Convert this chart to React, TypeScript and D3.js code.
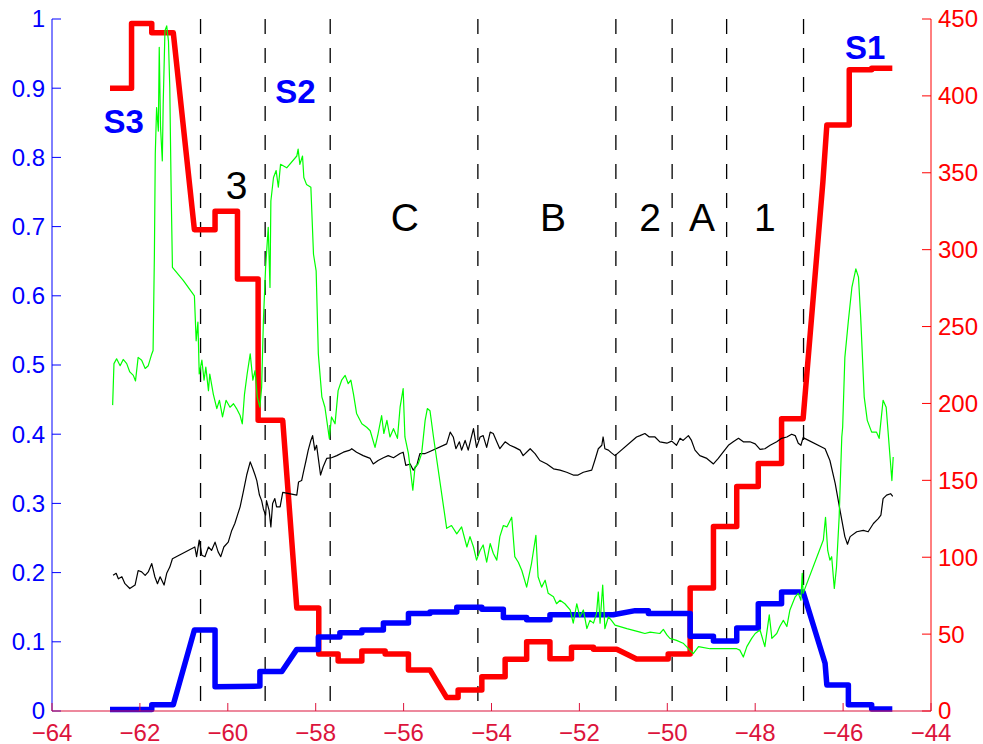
import * as d3 from 'd3'

const W = 983
const H = 744

// x extent of the plot and both y domains
const xDomain: [number, number] = [-64, -44]
const leftDomain: [number, number] = [0, 1]
const rightDomain: [number, number] = [0, 450]

// red staircase (right axis)
const redLine: [number, number][] = [
  [-62.68, 405], [-62.19, 405], [-62.19, 447], [-61.73, 447], [-61.73, 441], [-61.24, 441],
  [-60.76, 313], [-60.29, 313], [-60.29, 325], [-59.78, 325], [-59.78, 281], [-59.31, 281],
  [-59.31, 189], [-58.75, 189], [-58.43, 67], [-57.93, 67], [-57.93, 37], [-57.49, 37],
  [-57.49, 32.5], [-56.95, 32.5], [-56.95, 39], [-56.42, 39], [-56.42, 37], [-55.89, 37],
  [-55.89, 26.7], [-55.4, 26.7], [-55.02, 8.7], [-54.76, 8.7], [-54.76, 13.7], [-54.22, 13.7],
  [-54.22, 22.3], [-53.69, 22.3], [-53.69, 33.6], [-53.2, 33.6], [-53.2, 45], [-52.67, 45],
  [-52.67, 34], [-52.18, 34], [-52.18, 41.4], [-51.68, 41.4], [-51.68, 40.1], [-51.15, 40.1],
  [-50.7, 33.8], [-49.98, 33.8], [-49.98, 37], [-49.48, 37], [-49.48, 80], [-48.95, 80],
  [-48.95, 120], [-48.42, 120], [-48.42, 146], [-47.93, 146], [-47.93, 161], [-47.4, 161],
  [-47.4, 190], [-46.91, 190], [-46.46, 344], [-46.37, 381], [-45.86, 381], [-45.86, 417],
  [-45.35, 417], [-45.35, 418], [-44.88, 418],
]

// blue staircase (left axis)
const blueLine: [number, number][] = [
  [-62.68, 0.002], [-61.73, 0.002], [-61.73, 0.009], [-61.24, 0.009], [-60.76, 0.117],
  [-60.29, 0.117], [-60.29, 0.035], [-59.27, 0.036], [-59.27, 0.057], [-58.77, 0.057],
  [-58.43, 0.089], [-57.94, 0.089], [-57.94, 0.107], [-57.45, 0.107], [-57.45, 0.113],
  [-56.95, 0.113], [-56.95, 0.117], [-56.46, 0.117], [-56.46, 0.127], [-55.89, 0.127],
  [-55.89, 0.141], [-55.4, 0.141], [-55.4, 0.143], [-54.79, 0.143], [-54.79, 0.15],
  [-54.22, 0.15], [-54.22, 0.147], [-53.73, 0.147], [-53.73, 0.135], [-53.2, 0.135],
  [-53.2, 0.132], [-52.67, 0.132], [-52.67, 0.139], [-51.23, 0.139], [-50.73, 0.145],
  [-50.43, 0.145], [-50.43, 0.141], [-49.48, 0.141], [-49.48, 0.108], [-48.95, 0.108],
  [-48.95, 0.101], [-48.42, 0.101], [-48.42, 0.12], [-47.93, 0.12], [-47.93, 0.155],
  [-47.4, 0.155], [-47.4, 0.172], [-46.91, 0.172], [-46.41, 0.069], [-46.37, 0.0375],
  [-45.88, 0.0375], [-45.88, 0.009], [-45.35, 0.009], [-45.35, 0.003], [-44.88, 0.003],
]

// green trace (left axis)
const greenLine: [number, number][] = [
  [-62.62, 0.442], [-62.59, 0.502], [-62.53, 0.509], [-62.45, 0.499], [-62.38, 0.508],
  [-62.3, 0.502], [-62.23, 0.49], [-62.15, 0.485], [-62.1, 0.477], [-62.04, 0.511],
  [-61.96, 0.507], [-61.88, 0.495], [-61.81, 0.499], [-61.73, 0.516], [-61.7, 0.521],
  [-61.67, 0.66], [-61.65, 0.805], [-61.62, 0.872], [-61.58, 0.838], [-61.56, 0.959],
  [-61.53, 0.843], [-61.49, 0.795], [-61.47, 0.877], [-61.43, 0.983], [-61.39, 0.99],
  [-61.35, 0.968], [-61.32, 0.901], [-61.29, 0.757], [-61.26, 0.641], [-61.01, 0.622],
  [-60.76, 0.6], [-60.72, 0.535], [-60.68, 0.562], [-60.65, 0.487], [-60.59, 0.507],
  [-60.54, 0.478], [-60.5, 0.497], [-60.44, 0.463], [-60.41, 0.487], [-60.33, 0.458],
  [-60.25, 0.437], [-60.19, 0.449], [-60.12, 0.425], [-60.04, 0.449], [-59.95, 0.439],
  [-59.87, 0.444], [-59.8, 0.437], [-59.72, 0.427], [-59.67, 0.415], [-59.62, 0.458],
  [-59.56, 0.487], [-59.49, 0.516], [-59.43, 0.478], [-59.38, 0.492], [-59.33, 0.454],
  [-59.27, 0.439], [-59.23, 0.468], [-59.19, 0.564], [-59.14, 0.641], [-59.08, 0.699],
  [-59.04, 0.612], [-59.02, 0.737], [-58.96, 0.771], [-58.9, 0.781], [-58.85, 0.757],
  [-58.8, 0.79], [-58.66, 0.785], [-58.43, 0.802], [-58.4, 0.812], [-58.36, 0.79],
  [-58.3, 0.802], [-58.27, 0.771], [-58.21, 0.761], [-58.11, 0.757], [-58.05, 0.66],
  [-57.99, 0.636], [-57.94, 0.516], [-57.86, 0.454], [-57.79, 0.439], [-57.69, 0.394],
  [-57.64, 0.425], [-57.56, 0.415], [-57.49, 0.463], [-57.41, 0.478], [-57.33, 0.485],
  [-57.26, 0.473], [-57.2, 0.478], [-57.14, 0.458], [-57.07, 0.43], [-56.95, 0.415],
  [-56.84, 0.41], [-56.76, 0.405], [-56.65, 0.381], [-56.58, 0.401], [-56.5, 0.427],
  [-56.45, 0.401], [-56.38, 0.42], [-56.31, 0.396], [-56.23, 0.408], [-56.14, 0.394],
  [-56.08, 0.439], [-56.01, 0.466], [-55.97, 0.396], [-55.89, 0.372], [-55.79, 0.319],
  [-55.74, 0.353], [-55.67, 0.357], [-55.59, 0.372], [-55.51, 0.42], [-55.46, 0.437],
  [-55.4, 0.434], [-55.32, 0.396], [-55.02, 0.264], [-54.91, 0.268], [-54.79, 0.256],
  [-54.68, 0.266], [-54.56, 0.237], [-54.49, 0.252], [-54.41, 0.237], [-54.34, 0.218],
  [-54.26, 0.232], [-54.19, 0.24], [-54.11, 0.215], [-54.03, 0.242], [-53.96, 0.228],
  [-53.88, 0.218], [-53.81, 0.252], [-53.73, 0.268], [-53.65, 0.266], [-53.54, 0.28],
  [-53.47, 0.223], [-53.39, 0.215], [-53.31, 0.203], [-53.2, 0.179], [-53.09, 0.213],
  [-52.99, 0.254], [-52.94, 0.194], [-52.86, 0.179], [-52.78, 0.189], [-52.71, 0.17],
  [-52.59, 0.165], [-52.52, 0.155], [-52.44, 0.16], [-52.33, 0.155], [-52.21, 0.146],
  [-52.14, 0.127], [-52.06, 0.155], [-51.99, 0.136], [-51.91, 0.146], [-51.83, 0.119],
  [-51.76, 0.131], [-51.68, 0.127], [-51.61, 0.141], [-51.57, 0.172], [-51.53, 0.127],
  [-51.47, 0.182], [-51.42, 0.119], [-51.34, 0.136], [-51.27, 0.131], [-51.19, 0.124],
  [-50.92, 0.119], [-50.62, 0.114], [-50.51, 0.112], [-50.39, 0.114], [-50.17, 0.112],
  [-50.09, 0.118], [-50.01, 0.11], [-49.94, 0.105], [-49.79, 0.102], [-49.64, 0.098],
  [-49.41, 0.083], [-49.29, 0.093], [-49.03, 0.09], [-48.73, 0.09], [-48.42, 0.09],
  [-48.35, 0.088], [-48.27, 0.078], [-48.19, 0.093], [-48.08, 0.105], [-48.0, 0.112],
  [-47.89, 0.117], [-47.78, 0.093], [-47.68, 0.139], [-47.62, 0.105], [-47.51, 0.112],
  [-47.44, 0.122], [-47.36, 0.131], [-47.28, 0.122], [-47.21, 0.146], [-47.09, 0.165],
  [-47.02, 0.17], [-46.96, 0.16], [-46.93, 0.199], [-46.91, 0.17], [-46.45, 0.247],
  [-46.4, 0.28], [-46.35, 0.232], [-46.3, 0.218], [-46.26, 0.223], [-46.2, 0.177],
  [-46.15, 0.208], [-46.09, 0.28], [-46.03, 0.396], [-46.01, 0.41], [-45.96, 0.511],
  [-45.88, 0.564], [-45.8, 0.612], [-45.71, 0.639], [-45.65, 0.627], [-45.6, 0.569],
  [-45.52, 0.454], [-45.45, 0.42], [-45.35, 0.403], [-45.24, 0.403], [-45.18, 0.394],
  [-45.09, 0.449], [-45.02, 0.439], [-44.89, 0.333], [-44.86, 0.367],
]

// black trace (left axis)
const blackLine: [number, number][] = [
  [-62.61, 0.196], [-62.54, 0.199], [-62.49, 0.191], [-62.41, 0.194], [-62.34, 0.184],
  [-62.23, 0.177], [-62.11, 0.182], [-62.04, 0.203], [-61.96, 0.201], [-61.88, 0.196],
  [-61.81, 0.201], [-61.73, 0.213], [-61.66, 0.194], [-61.6, 0.184], [-61.54, 0.194],
  [-61.45, 0.182], [-61.39, 0.199], [-61.32, 0.208], [-61.26, 0.22], [-60.75, 0.237],
  [-60.71, 0.223], [-60.65, 0.247], [-60.59, 0.225], [-60.52, 0.223], [-60.44, 0.237],
  [-60.37, 0.232], [-60.29, 0.244], [-60.22, 0.23], [-60.16, 0.223], [-60.09, 0.237],
  [-59.99, 0.244], [-59.91, 0.261], [-59.84, 0.271], [-59.78, 0.283], [-59.72, 0.295],
  [-59.65, 0.316], [-59.57, 0.341], [-59.49, 0.36], [-59.43, 0.35], [-59.38, 0.341],
  [-59.34, 0.333], [-59.28, 0.312], [-59.23, 0.304], [-59.19, 0.292], [-59.14, 0.283],
  [-59.12, 0.304], [-59.06, 0.29], [-59.02, 0.266], [-58.98, 0.3], [-58.93, 0.307],
  [-58.89, 0.295], [-58.81, 0.295], [-58.75, 0.316], [-58.43, 0.312], [-58.39, 0.331],
  [-58.32, 0.333], [-58.28, 0.345], [-58.22, 0.362], [-58.17, 0.377], [-58.11, 0.391],
  [-58.07, 0.398], [-58.02, 0.377], [-57.98, 0.384], [-57.94, 0.365], [-57.89, 0.341],
  [-57.83, 0.353], [-57.75, 0.365], [-57.64, 0.366], [-57.52, 0.369], [-57.37, 0.374],
  [-57.22, 0.377], [-57.18, 0.379], [-57.07, 0.374], [-56.92, 0.369], [-56.76, 0.365],
  [-56.69, 0.357], [-56.58, 0.362], [-56.46, 0.366], [-56.35, 0.369], [-56.23, 0.366],
  [-56.08, 0.372], [-56.01, 0.374], [-55.95, 0.355], [-55.85, 0.357], [-55.78, 0.348],
  [-55.7, 0.355], [-55.63, 0.372], [-55.51, 0.372], [-55.44, 0.374], [-55.02, 0.386],
  [-54.94, 0.403], [-54.87, 0.396], [-54.81, 0.379], [-54.73, 0.389], [-54.68, 0.377],
  [-54.6, 0.391], [-54.53, 0.377], [-54.45, 0.398], [-54.41, 0.408], [-54.34, 0.381],
  [-54.26, 0.396], [-54.19, 0.398], [-54.11, 0.381], [-54.03, 0.403], [-53.96, 0.401],
  [-53.88, 0.389], [-53.81, 0.379], [-53.69, 0.389], [-53.58, 0.384], [-53.47, 0.381],
  [-53.35, 0.377], [-53.28, 0.369], [-53.12, 0.379], [-53.01, 0.372], [-52.9, 0.362],
  [-52.74, 0.357], [-52.59, 0.35], [-52.44, 0.348], [-52.29, 0.345], [-52.14, 0.341],
  [-52.03, 0.341], [-51.91, 0.345], [-51.72, 0.348], [-51.65, 0.362], [-51.57, 0.379],
  [-51.49, 0.384], [-51.46, 0.396], [-51.42, 0.379], [-51.34, 0.377], [-51.27, 0.373],
  [-51.19, 0.369], [-50.7, 0.396], [-50.62, 0.398], [-50.51, 0.401], [-50.41, 0.396],
  [-50.28, 0.396], [-50.17, 0.389], [-50.01, 0.387], [-49.9, 0.39], [-49.79, 0.384],
  [-49.71, 0.394], [-49.64, 0.391], [-49.52, 0.398], [-49.45, 0.391], [-49.37, 0.377],
  [-49.26, 0.369], [-49.1, 0.365], [-48.95, 0.357], [-48.84, 0.365], [-48.73, 0.374],
  [-48.61, 0.384], [-48.5, 0.389], [-48.38, 0.394], [-48.27, 0.389], [-48.12, 0.389],
  [-48.0, 0.386], [-47.89, 0.378], [-47.78, 0.379], [-47.66, 0.384], [-47.51, 0.389],
  [-47.4, 0.394], [-47.28, 0.396], [-47.17, 0.4], [-47.09, 0.398], [-47.02, 0.387],
  [-46.96, 0.384], [-46.91, 0.395], [-46.41, 0.379], [-46.3, 0.362], [-46.18, 0.329],
  [-46.07, 0.29], [-45.96, 0.252], [-45.9, 0.241], [-45.84, 0.252], [-45.69, 0.259],
  [-45.54, 0.261], [-45.43, 0.259], [-45.31, 0.271], [-45.2, 0.278], [-45.14, 0.283],
  [-45.09, 0.307], [-45.01, 0.312], [-44.92, 0.314], [-44.87, 0.31],
]

// region boundaries (dashed verticals)
const boundaries = [-60.62, -59.15, -57.67, -54.31, -51.17, -49.89, -48.65, -46.9]

// annotations, in left-axis data units
const stationLabels = [
  { text: 'S3', x: -62.37, y: 0.835 },
  { text: 'S2', x: -58.46, y: 0.879 },
  { text: 'S1', x: -45.5, y: 0.942 },
]
const regionLabels = [
  { text: '3', x: -59.8, y: 0.74 },
  { text: 'C', x: -55.97, y: 0.694 },
  { text: 'B', x: -52.6, y: 0.694 },
  { text: '2', x: -50.39, y: 0.694 },
  { text: 'A', x: -49.21, y: 0.694 },
  { text: '1', x: -47.78, y: 0.694 },
]

const FONT = '"Liberation Sans", Arial, Helvetica, sans-serif'
const BLUE = '#0000ff'
const RED = '#ff0000'
const XRED = '#dc143c'

export default function App() {
  const left = 52
  const right = 931
  const top = 19
  const bottom = 711

  const x = d3.scaleLinear().domain(xDomain).range([left, right])
  const yL = d3.scaleLinear().domain(leftDomain).range([bottom, top])
  const yR = d3.scaleLinear().domain(rightDomain).range([bottom, top])

  const lineL = d3
    .line<[number, number]>()
    .x((d) => x(d[0]))
    .y((d) => yL(d[1]))
  const lineR = d3
    .line<[number, number]>()
    .x((d) => x(d[0]))
    .y((d) => yR(d[1]))

  const xTicks = d3.range(-64, -43, 2)
  const lTicks = d3.range(0, 11).map((i) => i / 10)
  const rTicks = d3.range(0, 451, 50)
  const tick = 9

  return (
    <svg
      width={W}
      height={H}
      style={{ position: 'absolute', left: 0, top: 0, background: '#fff' }}
      fontFamily={FONT}
    >
      {/* dashed region boundaries */}
      {boundaries.map((b) => (
        <line
          key={b}
          x1={x(b)}
          x2={x(b)}
          y1={yL(1)}
          y2={yL(0)}
          stroke="#000"
          strokeWidth={1.3}
          strokeDasharray="15 14"
        />
      ))}

      <path d={lineR(redLine) ?? ''} fill="none" stroke={RED} strokeWidth={5.5} strokeLinejoin="round" />
      <path d={lineL(blueLine) ?? ''} fill="none" stroke={BLUE} strokeWidth={5.5} strokeLinejoin="round" />
      <path d={lineL(blackLine) ?? ''} fill="none" stroke="#000" strokeWidth={1.2} strokeLinejoin="round" />
      <path d={lineL(greenLine) ?? ''} fill="none" stroke="#00ff00" strokeWidth={1.2} strokeLinejoin="round" />

      {/* left axis */}
      <line x1={left} x2={left} y1={top} y2={bottom} stroke={BLUE} strokeWidth={1} />
      {lTicks.map((t) => (
        <g key={'l' + t}>
          <line x1={left} x2={left + tick} y1={yL(t)} y2={yL(t)} stroke={BLUE} />
          <text x={left - 7} y={yL(t)} dy="0.35em" textAnchor="end" fontSize={24} fill={BLUE}>
            {String(+t.toFixed(1))}
          </text>
        </g>
      ))}

      {/* right axis */}
      <line x1={right} x2={right} y1={top} y2={bottom} stroke={RED} strokeWidth={1} />
      {rTicks.map((t) => (
        <g key={'r' + t}>
          <line x1={right - tick} x2={right} y1={yR(t)} y2={yR(t)} stroke={RED} />
          <text x={right + 7} y={yR(t)} dy="0.35em" textAnchor="start" fontSize={24} fill={RED}>
            {t}
          </text>
        </g>
      ))}

      {/* bottom axis */}
      <line x1={left} x2={right} y1={bottom} y2={bottom} stroke={XRED} strokeWidth={1.2} />
      {xTicks.map((t) => (
        <g key={'x' + t}>
          <line x1={x(t)} x2={x(t)} y1={bottom} y2={bottom - 8} stroke={XRED} />
          <text x={x(t)} y={bottom + 30} textAnchor="middle" fontSize={24} fill={XRED}>
            {'\u2212' + Math.abs(t)}
          </text>
        </g>
      ))}

      {stationLabels.map((l) => (
        <text key={l.text} x={x(l.x)} y={yL(l.y)} textAnchor="middle" fontSize={33} fontWeight="bold" fill={BLUE}>
          {l.text}
        </text>
      ))}
      {regionLabels.map((l) => (
        <text key={l.text} x={x(l.x)} y={yL(l.y)} textAnchor="middle" fontSize={39} fill="#000">
          {l.text}
        </text>
      ))}
    </svg>
  )
}
